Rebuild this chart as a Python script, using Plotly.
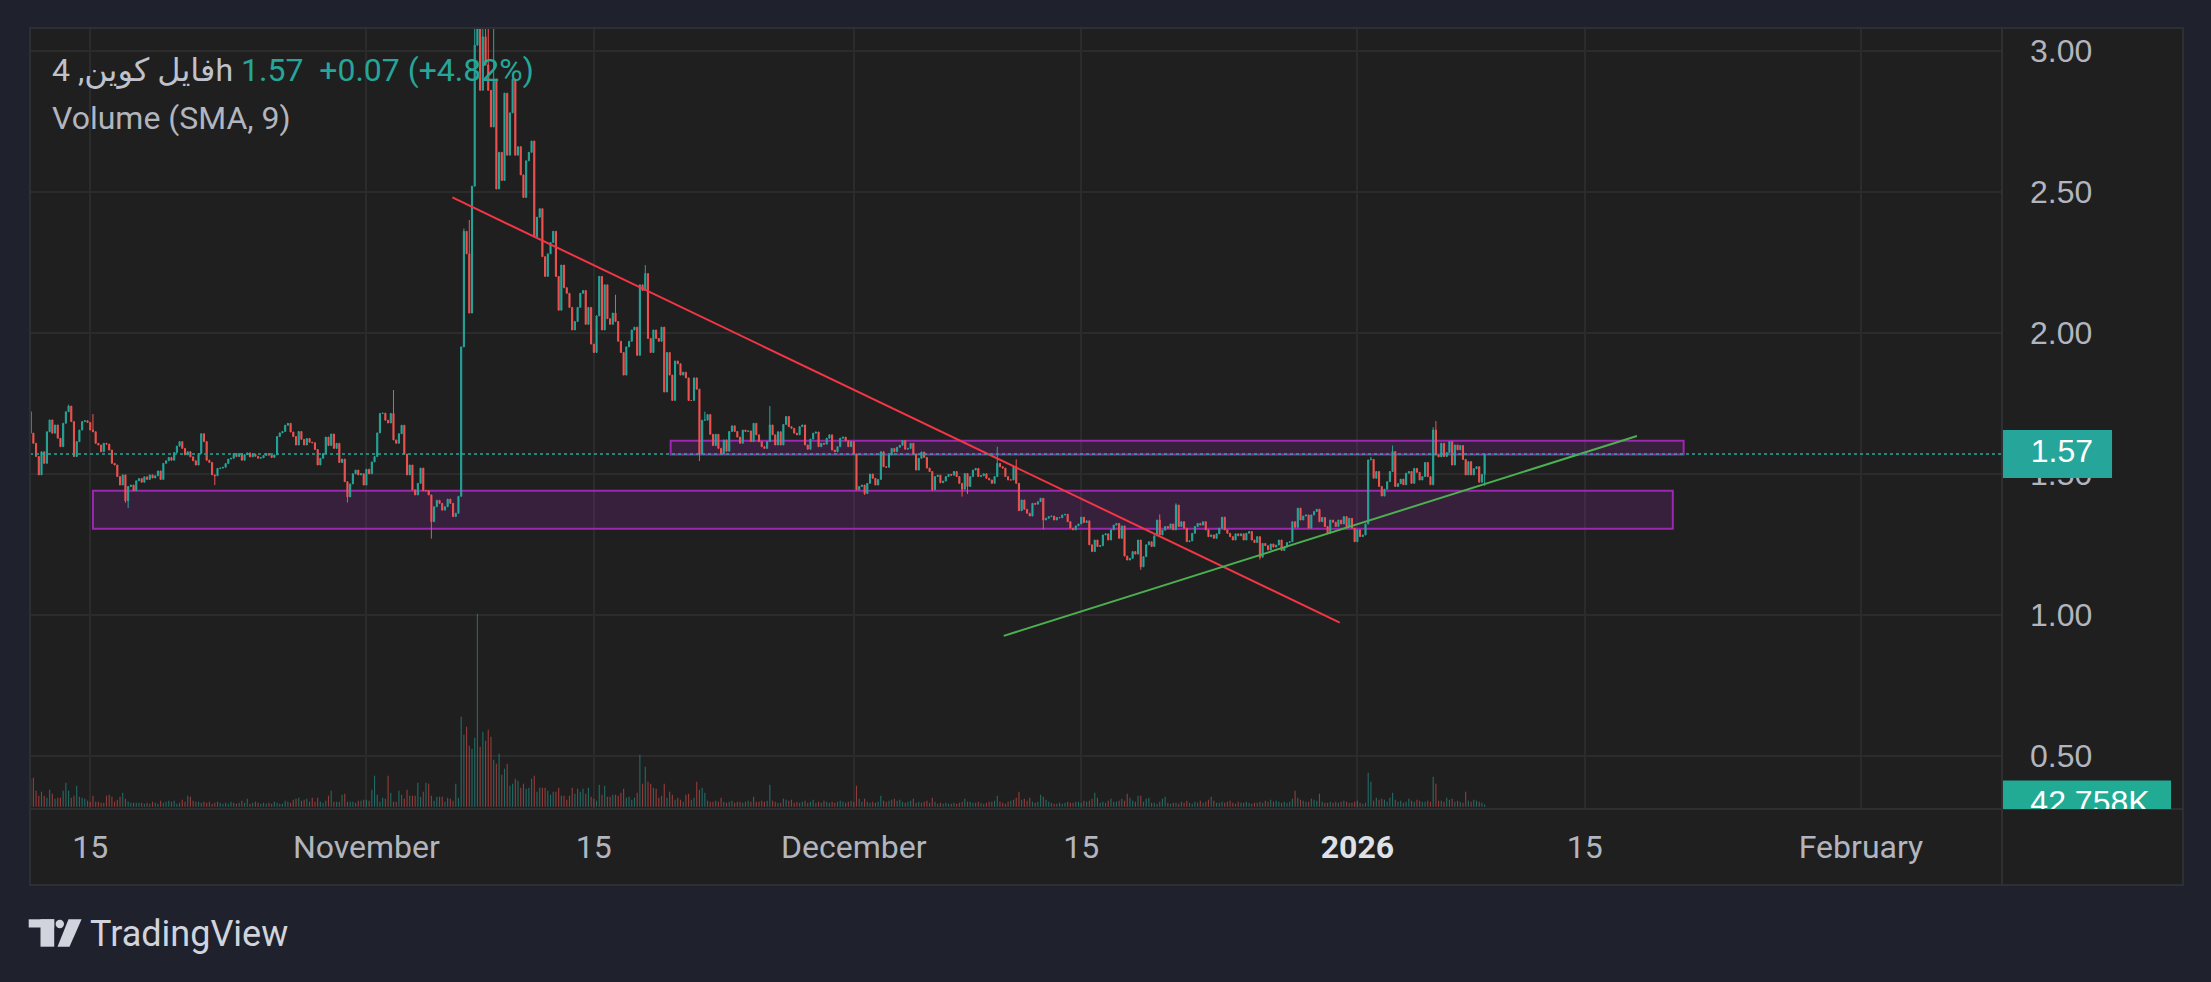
import pandas as pd
import plotly.graph_objects as go

W, H = 2211, 982

# ---------------- data (4h candles, FIL) ----------------
start_time = "2025-10-11 08:00"
first_open = 1.72

close_a = [
    1.644, 1.608, 1.561, 1.496, 1.578, 1.537, 1.649, 1.691, 1.644, 1.673,
    1.626, 1.596, 1.679, 1.720, 1.740, 1.685, 1.561, 1.614, 1.655, 1.685,
    1.688, 1.682, 1.655, 1.649, 1.608, 1.602, 1.578, 1.608, 1.605, 1.584,
    1.537, 1.531, 1.490, 1.460, 1.496, 1.404, 1.455, 1.460, 1.440, 1.475,
    1.483, 1.470, 1.489, 1.480, 1.496, 1.485, 1.493, 1.510, 1.480, 1.537,
    1.546, 1.558, 1.548, 1.575, 1.598, 1.614, 1.590, 1.567, 1.578, 1.560,
    1.546, 1.531, 1.572, 1.642, 1.614, 1.548, 1.540, 1.496, 1.493, 1.519,
    1.520, 1.523, 1.536, 1.552, 1.555, 1.572, 1.561, 1.572, 1.548, 1.568,
    1.574, 1.560, 1.570, 1.562, 1.555, 1.557, 1.565, 1.572, 1.566, 1.558,
    1.567, 1.632, 1.645, 1.650, 1.672, 1.679, 1.648, 1.632, 1.602, 1.650,
    1.622, 1.602, 1.625, 1.612, 1.610, 1.586, 1.531, 1.555, 1.572, 1.630,
    1.600, 1.641, 1.590, 1.608, 1.540, 1.552, 1.472, 1.418, 1.464, 1.500,
    1.513, 1.496, 1.500, 1.460, 1.516, 1.500, 1.542, 1.561, 1.645, 1.714,
    1.715, 1.690, 1.680, 1.714, 1.620, 1.608, 1.642, 1.672, 1.570, 1.496,
    1.531, 1.443, 1.425, 1.466, 1.520, 1.440, 1.440, 1.425, 1.330, 1.383,
    1.406, 1.395, 1.371, 1.383, 1.410, 1.395, 1.348, 1.360, 1.420]

close_b = [
    1.95, 2.36, 2.28, 2.07, 2.52, 3.02, 3.20, 2.86, 3.05, 2.95,
    2.86, 2.73, 2.90, 2.51, 2.64, 2.54, 2.85, 2.63, 2.78, 2.90,
    2.63, 2.66, 2.56, 2.48, 2.61, 2.64, 2.68, 2.34, 2.41, 2.44,
    2.27, 2.20, 2.28, 2.32, 2.36, 2.20, 2.08, 2.24, 2.16, 2.14,
    2.09, 2.01, 2.04, 2.09, 2.14, 2.15, 2.03, 2.09, 1.96, 1.93,
    2.06, 2.20, 2.01, 2.17, 2.05, 2.03, 2.07, 2.04, 1.97, 1.93,
    1.85, 1.95, 1.97, 2.01, 2.02, 1.92, 2.17, 2.15, 2.21, 1.98,
    1.93, 2.01, 1.98, 1.97, 2.02, 1.79, 1.93, 1.85, 1.76, 1.90,
    1.89, 1.85, 1.86, 1.84, 1.76, 1.76, 1.84, 1.80, 1.57, 1.69,
    1.69, 1.71, 1.64, 1.60, 1.64, 1.59, 1.57, 1.62, 1.58, 1.65,
    1.67, 1.65, 1.63]

close_c = [
    1.608, 1.655, 1.650, 1.652, 1.614, 1.679, 1.638, 1.614, 1.596, 1.590,
    1.614, 1.673, 1.638, 1.602, 1.649, 1.602, 1.675, 1.703, 1.667, 1.661,
    1.644, 1.638, 1.667, 1.673, 1.602, 1.587, 1.623, 1.644, 1.648, 1.596,
    1.608, 1.605, 1.626, 1.638, 1.584, 1.578, 1.596, 1.626, 1.630, 1.617,
    1.596, 1.614, 1.570, 1.443, 1.455, 1.460, 1.430, 1.466, 1.499, 1.484,
    1.460, 1.480, 1.578, 1.525, 1.523, 1.567, 1.590, 1.578, 1.594,
    1.601, 1.618, 1.587, 1.590, 1.608, 1.570, 1.513, 1.555, 1.577, 1.558,
    1.520, 1.508, 1.443, 1.490, 1.495, 1.468, 1.474, 1.490, 1.498, 1.495,
    1.508, 1.490, 1.466, 1.445, 1.501, 1.455, 1.490, 1.513, 1.519, 1.490,
    1.493, 1.500, 1.484, 1.478, 1.466, 1.490, 1.537, 1.525, 1.520, 1.490,
    1.478, 1.478, 1.525, 1.466]

close_d = [
    1.369, 1.407, 1.374, 1.360, 1.350, 1.395, 1.392, 1.401, 1.413, 1.336,
    1.342, 1.348, 1.350, 1.336, 1.345, 1.344, 1.354, 1.356, 1.330, 1.307,
    1.301, 1.315, 1.322, 1.346, 1.327, 1.333, 1.248, 1.224, 1.265, 1.242,
    1.245, 1.283, 1.287, 1.265, 1.301, 1.318, 1.324, 1.271, 1.315, 1.208,
    1.194, 1.200, 1.224, 1.215, 1.265, 1.170, 1.206, 1.248, 1.259, 1.242,
    1.280, 1.336, 1.283, 1.300, 1.313, 1.307, 1.322, 1.301, 1.389, 1.313,
    1.330, 1.307, 1.259, 1.262, 1.289, 1.313, 1.324, 1.318, 1.330, 1.301,
    1.277, 1.283, 1.271, 1.287, 1.307, 1.346, 1.301, 1.289, 1.277, 1.265,
    1.287, 1.280, 1.287, 1.265, 1.289, 1.295, 1.265, 1.256, 1.277, 1.204,
    1.253, 1.245, 1.230, 1.251, 1.240, 1.247, 1.265, 1.228, 1.240, 1.256,
    1.259, 1.330, 1.310, 1.378, 1.336, 1.350, 1.354, 1.307, 1.354, 1.366,
    1.374, 1.330, 1.345, 1.313, 1.289, 1.336, 1.328, 1.313, 1.336, 1.322,
    1.348, 1.313, 1.342, 1.307, 1.259, 1.301, 1.277, 1.283, 1.322, 1.549,
    1.551, 1.484, 1.508, 1.455, 1.421, 1.445, 1.472, 1.508, 1.579, 1.455,
    1.465, 1.481, 1.461, 1.502, 1.508, 1.466, 1.519, 1.505, 1.478, 1.490,
    1.540, 1.490, 1.461, 1.655, 1.567, 1.560, 1.608, 1.561, 1.575, 1.614,
    1.531, 1.602, 1.585, 1.600, 1.551, 1.496, 1.543, 1.496, 1.518, 1.525,
    1.470, 1.4978, 1.570]

# wick extremes beyond the body (candle index -> price)
wick_high = {14: 1.745, 23: 1.712, 134: 1.797, 160: 2.37, 162: 2.40, 164: 3.30,
             165: 3.45, 166: 3.12, 167: 3.18, 168: 3.10, 169: 3.15, 171: 3.12,
             216: 2.135, 227: 2.24, 249: 1.72, 273: 1.740, 357: 1.596, 364: 1.551,
             417: 1.356, 423: 1.395, 495: 1.560, 503: 1.600, 518: 1.665, 519: 1.687}
wick_low = {35: 1.397, 36: 1.378, 68: 1.460, 117: 1.398, 148: 1.270, 247: 1.545,
            308: 1.425, 333: 1.440, 344: 1.419, 346: 1.428, 374: 1.303, 410: 1.159,
            454: 1.196, 537: 1.457}

# volume in thousands
vol_a = [
    560, 580, 320, 220, 300, 220, 180, 340, 260, 160, 180, 180, 320, 480, 320, 180, 220, 420, 200, 180, 160, 120,
    100, 220, 100, 100, 80, 80, 220, 240, 200, 100, 140, 200, 280, 160, 100, 80, 80, 80, 80, 80,
    60, 80, 60, 100, 80, 60, 120, 80, 100, 120, 100, 120, 60, 80, 140, 100, 220, 200, 120, 100,
    100, 80, 100, 80, 100, 60, 80, 100, 80, 60, 80, 60, 100, 80, 60, 80, 120, 80, 160, 60,
    80, 100, 80, 60, 80, 60, 80, 60, 100, 80, 60, 60, 120, 100, 80, 140, 160, 180, 120, 140,
    160, 100, 180, 100, 180, 100, 80, 120, 220, 320,
    100, 100, 100, 240, 260, 100, 100, 100, 80, 120, 120, 140, 140, 120, 340, 620, 240, 100, 180, 160,
    620, 280, 100, 100, 320, 240, 160, 340, 220, 220, 220, 480, 200, 300, 480, 460, 220, 120, 200, 200,
    200, 100, 180, 160, 120, 460, 180]
vol_b = [
    1800, 1440, 1600, 1220, 1160, 1380, 3860, 1200, 1500, 1320,
    1540, 1400, 940, 860, 1060, 640, 760, 860, 420, 460,
    560, 520, 380, 460, 360, 380, 560, 620, 300, 380,
    380, 380, 320, 240, 300, 300, 380, 220, 220, 140,
    220, 380, 260, 360, 300, 360, 260, 380, 200, 160,
    120, 440, 240, 420, 200, 200, 240, 240, 220, 280,
    360, 180, 200, 140, 180, 280, 1040, 460, 800, 500,
    460, 380, 360, 180, 220, 460, 180, 300, 240, 140,
    180, 140, 100, 240, 260, 140, 180, 500, 340, 380,
    280, 120, 100,
    100, 120, 100, 180, 100, 80, 100, 120, 80, 100, 100, 80, 100, 120, 100, 200, 100, 100, 120,
    100, 120, 440, 120, 100, 80, 80, 160, 140, 120, 140, 80, 100, 80, 100, 120, 80, 100, 140, 80,
    100, 80, 120, 100, 80, 100, 80, 100, 120, 100, 80, 100, 120, 100]
vol_c = [
    420,
    160, 100, 160, 100, 80, 100, 80, 100, 220, 120, 100, 120, 140, 160, 120,
    140, 100, 80, 100, 120, 160, 80, 100, 80, 100, 120, 80, 180, 100, 60, 80, 60, 80, 60, 60, 80, 60, 80, 100, 160,
    100, 100, 80, 80, 100, 80, 60, 80, 100, 100, 120, 220, 100, 80, 60, 100, 120, 140, 180, 300, 140, 160, 120, 180, 100,
    80, 100, 240, 200, 140, 100, 80, 60, 60, 80, 60, 80, 100, 80, 80, 100, 100, 80, 120, 100,
    120, 160, 280, 180, 80, 100, 80, 120, 160, 100]
vol_d = [
    100, 120, 160, 120, 260, 180, 120, 100, 220, 220, 100, 160, 180, 80, 80, 60, 100, 160, 200, 80,
    60, 80, 80, 60, 100, 80, 120, 80, 60, 100, 80, 120, 80, 100, 140, 200, 120, 80, 80, 100,
    80, 100, 120, 80, 60, 100, 80, 80, 100, 80, 60, 80, 80, 100, 80, 120, 100, 140, 100, 120,
    100, 80, 100, 80, 100, 160, 320, 180, 140, 120, 100, 100, 160, 140, 120, 260, 100, 80, 80, 100,
    80, 100, 80, 100, 120, 100, 80, 80, 100, 120, 80, 60, 80,
    680, 500,
    120, 180, 140, 160, 140, 100, 180, 280, 140, 100, 120, 80, 100, 160, 120, 100, 140, 120, 100, 100,
    120, 100, 600, 460, 120, 120, 100, 180, 140, 160, 100, 120, 100, 80, 300, 120, 100, 140, 120, 100,
    80, 42.758]

# drawings on the chart
red_trend_time = ["2025-11-06 07:00", "2025-12-30 22:00"]
red_trend_price = [2.48, 0.972]
green_trend_time = ["2025-12-10 05:30", "2026-01-18 05:00"]
green_trend_price = [0.925, 1.634]
zone_low_time = ["2025-10-15 04:00", "2026-01-20 10:00"]
zone_low_price = [1.305, 1.440]
zone_high_time = ["2025-11-19 17:30", "2026-01-21 02:00"]
zone_high_price = [1.568, 1.617]

x_tick_dates = ["2025-10-15", "2025-11-01", "2025-11-15", "2025-12-01",
                "2025-12-15", "2026-01-01", "2026-01-15", "2026-02-01"]
x_tick_text = ["15", "November", "15", "December", "15",
               "<b><span style='color:#dfe1e6'>2026</span></b>", "15", "February"]
y_tick_vals = [0.5, 1.0, 1.5, 2.0, 2.5, 3.0]
y_tick_text = ["0.50", "1.00", "1.50", "2.00", "2.50", "3.00"]
x_view = ["2025-10-11 07:00", "2026-02-09 16:20"]
price_view = [0.311, 3.081]

symbol_text = "فایل کوین, 4h"
indicator_text = "Volume (SMA, 9)"

# ---------------- build ----------------
closes = close_a + close_b + close_c + close_d
volumes = vol_a + vol_b + vol_c + vol_d
if len(closes) != len(volumes):
    raise SystemExit(f"length mismatch {len(closes)} {len(volumes)}")
n = len(closes)
times = pd.date_range(start_time, periods=n, freq="4h")
opens = [first_open] + closes[:-1]
highs = [max(o, c, wick_high.get(i, 0)) for i, (o, c) in enumerate(zip(opens, closes))]
lows = [min(o, c, wick_low.get(i, 99)) for i, (o, c) in enumerate(zip(opens, closes))]

UP, DOWN = "#26a69a", "#ef5350"
vol_colors = ["rgba(38,166,154,0.55)" if c >= o else "rgba(239,83,80,0.55)"
              for o, c in zip(opens, closes)]

last_close = closes[-1]
prev_close = closes[-2]
chg = last_close - prev_close
pct = chg / prev_close * 100
last_vol = volumes[-1]

vol_px_k = 20.0  # thousand per pixel
pane_px = 809 - 28
vol_view = [-2.3 * vol_px_k, -2.3 * vol_px_k + pane_px * vol_px_k]

BG_OUT = "#1f222c"
BG_PANE = "#1f1f1f"
GRID = "#2b2b2b"
BORDER = "#2e2f33"
TXT = "#b2b5be"

def px(X):
    return X / W

def py(Y):
    return 1 - Y / H

fig = go.Figure()
fig.add_trace(go.Bar(x=times, y=volumes, marker=dict(color=vol_colors, line=dict(width=0)),
                     width=4 * 3600 * 1000 * 0.42, xaxis="x", yaxis="y2", hoverinfo="skip",
                     showlegend=False))
fig.add_trace(go.Candlestick(
    x=times, open=opens, high=highs, low=lows, close=closes,
    increasing=dict(line=dict(color=UP, width=1), fillcolor=UP),
    decreasing=dict(line=dict(color=DOWN, width=1), fillcolor=DOWN),
    whiskerwidth=0, xaxis="x", yaxis="y", hoverinfo="skip", showlegend=False))

# price axis labels (clipped to price-scale pane)
fig.add_trace(go.Scatter(x=[0.331], y=[last_close], mode="text", text=[f"{last_close:.2f}"],
                         textfont=dict(family="Liberation Sans, Arial", size=32, color="#ffffff"),
                         xaxis="x3", yaxis="y3", cliponaxis=True, hoverinfo="skip", showlegend=False))
fig.add_trace(go.Scatter(x=[0.486], y=[last_vol], mode="text", text=[f"{last_vol:.3f}K"],
                         textfont=dict(family="Liberation Sans, Arial", size=32, color="#ffffff"),
                         xaxis="x3", yaxis="y4", cliponaxis=True, hoverinfo="skip", showlegend=False))

dom_x = [px(30), px(2002)]
dom_y = [py(809), py(28)]

fig.update_layout(
    width=W, height=H, autosize=False,
    margin=dict(l=0, r=0, t=0, b=0),
    paper_bgcolor=BG_OUT, plot_bgcolor=BG_PANE,
    showlegend=False, boxgap=0.42,
    xaxis=dict(domain=dom_x, range=x_view, type="date", anchor="y",
               tickvals=x_tick_dates, ticktext=x_tick_text, tickangle=0,
               tickfont=dict(family="Roboto", size=32, color=TXT),
               ticks="", ticklabelstandoff=16,
               showgrid=True, gridcolor=GRID, gridwidth=1.5, zeroline=False,
               showline=False, rangeslider=dict(visible=False), fixedrange=True),
    yaxis=dict(domain=dom_y, range=price_view, side="right", anchor="x",
               tickvals=y_tick_vals, ticktext=y_tick_text,
               tickfont=dict(family="Liberation Sans, Arial", size=32, color=TXT),
               ticks="", ticklabelstandoff=27,
               showgrid=True, gridcolor=GRID, gridwidth=1.5, zeroline=False, showline=False),
    yaxis2=dict(overlaying="y", range=vol_view, visible=False, anchor="x"),
    xaxis3=dict(domain=[px(2002), px(2183)], range=[0, 1], visible=False, anchor="y3"),
    yaxis3=dict(domain=dom_y, range=price_view, visible=False, anchor="x3"),
    yaxis4=dict(overlaying="y3", range=vol_view, visible=False, anchor="x3"),
)

shapes = []
# axis panes
for (x0, x1, y0, y1) in [(2002, 2183, 28, 809), (30, 2002, 809, 885), (2002, 2183, 809, 885)]:
    shapes.append(dict(type="rect", xref="paper", yref="paper", x0=px(x0), x1=px(x1),
                       y0=py(y1), y1=py(y0), fillcolor=BG_PANE,
                       line=dict(color=BORDER, width=2), layer="below"))
# zones
for t, p in [(zone_low_time, zone_low_price), (zone_high_time, zone_high_price)]:
    shapes.append(dict(type="rect", xref="x", yref="y", x0=t[0], x1=t[1], y0=p[0], y1=p[1],
                       fillcolor="rgba(156,39,176,0.2)", line=dict(color="#9c27b0", width=2),
                       layer="between"))
# trend lines
shapes.append(dict(type="line", xref="x", yref="y", x0=red_trend_time[0], x1=red_trend_time[1],
                   y0=red_trend_price[0], y1=red_trend_price[1],
                   line=dict(color="#f23645", width=2), layer="above"))
shapes.append(dict(type="line", xref="x", yref="y", x0=green_trend_time[0], x1=green_trend_time[1],
                   y0=green_trend_price[0], y1=green_trend_price[1],
                   line=dict(color="#4caf50", width=2), layer="above"))
# last price line
shapes.append(dict(type="line", xref="x domain", yref="y", x0=0, x1=1, y0=last_close, y1=last_close,
                   line=dict(color=UP, width=1.5, dash="dot"), layer="above"))
# chart pane border
shapes.append(dict(type="rect", xref="paper", yref="paper", x0=px(30), x1=px(2002),
                   y0=py(809), y1=py(28), line=dict(color=BORDER, width=2),
                   fillcolor="rgba(0,0,0,0)", layer="above"))
# price label boxes (under the label texts, over the axis tick labels)
shapes.append(dict(type="rect", xref="x3", yref="y3", x0=0, x1=0.608,
                   y0=last_close - 24 / 282, y1=last_close + 24 / 282,
                   fillcolor="#26a69a", line=dict(width=0), layer="below"))
shapes.append(dict(type="rect", xref="x3", yref="y4", x0=0, x1=0.934,
                   y0=last_vol - 24 * vol_px_k, y1=last_vol + 24 * vol_px_k,
                   fillcolor="#22ab94", line=dict(width=0), layer="below"))
# TradingView logo
LOGO = "#d1d4dc"
shapes.append(dict(type="rect", xref="paper", yref="paper", x0=px(28.7), x1=px(54.2),
                   y0=py(927.5), y1=py(919.3), fillcolor=LOGO, line=dict(width=0)))
shapes.append(dict(type="rect", xref="paper", yref="paper", x0=px(40.5), x1=px(54.2),
                   y0=py(946.7), y1=py(919.3), fillcolor=LOGO, line=dict(width=0)))
shapes.append(dict(type="circle", xref="paper", yref="paper", x0=px(55.6), x1=px(64.0),
                   y0=py(928.2), y1=py(919.8), fillcolor=LOGO, line=dict(width=0)))
shapes.append(dict(type="path", xref="paper", yref="paper",
                   path=f"M {px(68.5)} {py(919.3)} L {px(81.6)} {py(919.3)} L {px(69.5)} {py(946.7)} "
                        f"L {px(57.5)} {py(946.7)} Z",
                   fillcolor=LOGO, line=dict(width=0)))
fig.update_layout(shapes=shapes)

anns = [
    dict(text=symbol_text, x=px(50), y=py(70), xref="paper", yref="paper",
         xanchor="left", yanchor="middle", showarrow=False,
         font=dict(family="Roboto, DejaVu Sans", size=32, color="#bfc2ca")),
    dict(text=f"{last_close:.2f}\u00a0\u00a0{chg:+.2f} ({pct:+.2f}%)", x=px(239), y=py(70),
         xref="paper", yref="paper", xanchor="left", yanchor="middle", showarrow=False,
         font=dict(family="Roboto", size=32, color="#26a69a")),
    dict(text=indicator_text, x=px(50), y=py(118), xref="paper", yref="paper",
         xanchor="left", yanchor="middle", showarrow=False,
         font=dict(family="Roboto", size=32, color="#b2b5be")),
    dict(text="TradingView", x=px(88), y=py(934), xref="paper", yref="paper",
         xanchor="left", yanchor="middle", showarrow=False,
         font=dict(family="Roboto", size=36, color=LOGO)),
]
fig.update_layout(annotations=anns)

fig.write_html("out.html", config={"displayModeBar": False},
               post_script="document.body.style.margin='0';")
